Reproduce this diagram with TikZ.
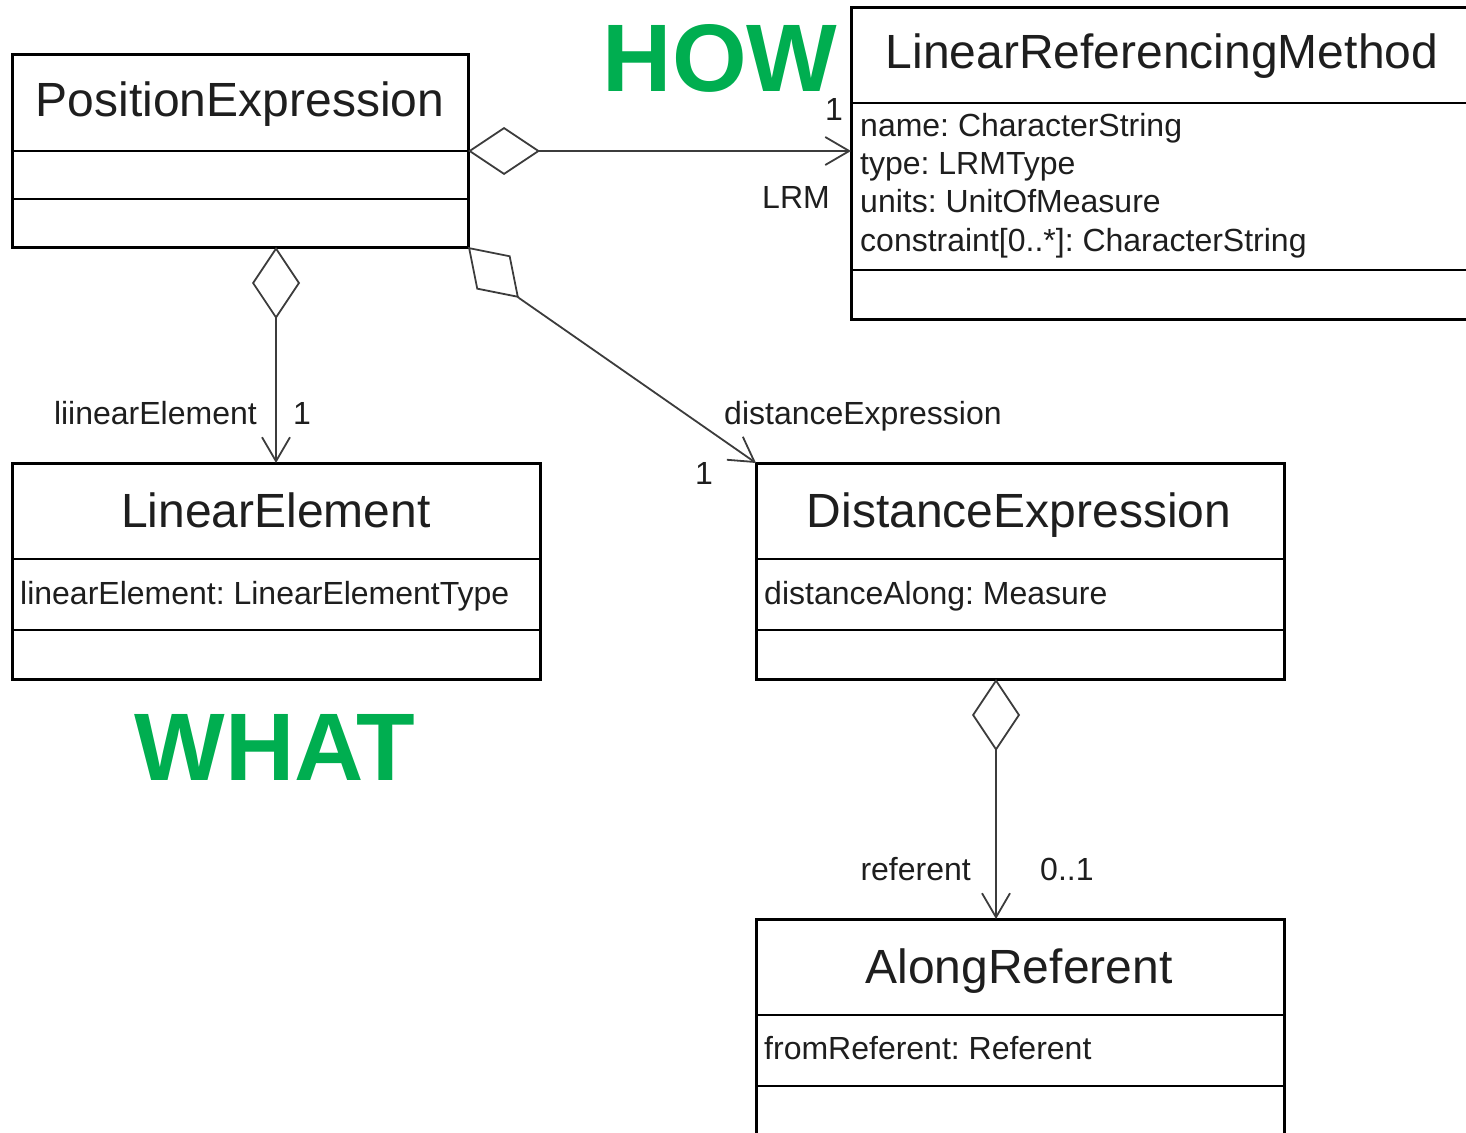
\documentclass[tikz,border=0pt]{standalone}
\usepackage{fontspec}
\setmainfont{Liberation Sans}
\usetikzlibrary{arrows.meta,calc}
\definecolor{howgreen}{RGB}{0,174,80}
\definecolor{ink}{RGB}{30,30,30}
\definecolor{wire}{RGB}{60,60,60}
\frenchspacing
\tikzset{
  classbox/.style={draw=black, line width=3pt, anchor=north west, inner sep=0pt, outer sep=0pt},
  divider/.style={draw=black, line width=2.5pt},
  title/.style={anchor=base, inner sep=0pt, text=ink, font=\fontsize{48}{56}\selectfont},
  attr/.style={anchor=base west, inner sep=0pt, text=ink, font=\fontsize{32}{38}\selectfont},
  role/.style={inner sep=0pt, text=ink, font=\fontsize{32}{38}\selectfont},
  tag/.style={anchor=base, inner sep=0pt, text=howgreen, text depth=0pt, font=\fontsize{96}{110}\selectfont\bfseries},
  assoc/.style={draw=wire, line width=1.8pt},
  aggr/.tip={Diamond[open,length=72pt,width=48pt]},
  navi/.tip={Straight Barb[length=24pt,width=28pt]},
}
\begin{document}
\begin{tikzpicture}[x=1pt,y=-1pt]
\useasboundingbox (0,0) rectangle (1466,1132);

% class boxes
\node[classbox, minimum width=456pt, minimum height=192pt] (pe) at (12,55) {};
\node[classbox, minimum width=700pt, minimum height=311pt] (lrm) at (851,8) {};
\node[classbox, minimum width=528pt, minimum height=216pt] (le) at (12,463) {};
\node[classbox, minimum width=528pt, minimum height=216pt] (de) at (756,463) {};
\node[classbox, minimum width=528pt, minimum height=260pt] (ar) at (756,919) {};

% compartment separators
\draw[divider] (12,151) -- (468,151);
\draw[divider] (12,199) -- (468,199);
\draw[divider] (851,103) -- (1560,103);
\draw[divider] (851,270) -- (1560,270);
\draw[divider] (12,559) -- (540,559);
\draw[divider] (12,630) -- (540,630);
\draw[divider] (756,559) -- (1284,559);
\draw[divider] (756,630) -- (1284,630);
\draw[divider] (756,1015) -- (1284,1015);
\draw[divider] (756,1086) -- (1284,1086);

% class names
\node[title] (peT) at (240,116) {PositionExpression};
\node[title] (lrmT) at (1162,69) {LinearReferencingMethod};
\node[title] (leT) at (276,527) {LinearElement};
\node[title] (deT) at (1019,527) {DistanceExpression};
\node[title] (arT) at (1019,983) {AlongReferent};

% attributes
\node[attr] (a1) at (860,136) {name: CharacterString};
\node[attr] (a2) at (860,174) {type: LRMType};
\node[attr] (a3) at (860,212) {units: UnitOfMeasure};
\node[attr] (a4) at (860,251) {constraint[0..*]: CharacterString};
\node[attr] (a5) at (20,604) {linearElement: LinearElementType};
\node[attr] (a6) at (764,604) {distanceAlong: Measure};
\node[attr] (a7) at (764,1059) {fromReferent: Referent};

% associations
\draw[assoc, aggr-navi] (pe.east) -- (lrm.west |- pe.east);
\draw[assoc, aggr-navi] (pe.south -| le.north) -- (le.north);
\draw[assoc, aggr-] (pe.south east) -- ++(51,51) coordinate (dt);
\draw[assoc, -navi] (dt) -- (de.north west);
\draw[assoc, aggr-navi] ($(de.south)+(-24,0)$) -- ($(ar.north)+(-24,0)$);

% role names and multiplicities
\node[role, anchor=base east] (m1) at (843,120) {1};
\node[role, anchor=base east] (r1) at (830,208) {LRM};
\node[role, anchor=base east] (r2) at (257,424) {liinearElement};
\node[role, anchor=base west] (m2) at (293,424) {1};
\node[role, anchor=base west] (r3) at (724,424) {distanceExpression};
\node[role, anchor=base east] (m3) at (713,484) {1};
\node[role, anchor=base east] (r4) at (971,880) {referent};
\node[role, anchor=base west] (m4) at (1040,880) {0..1};

% headings
\node[tag] (how) at (720,92) {HOW};
\node[tag] (what) at (275,780) {WHAT};
\end{tikzpicture}
\end{document}
